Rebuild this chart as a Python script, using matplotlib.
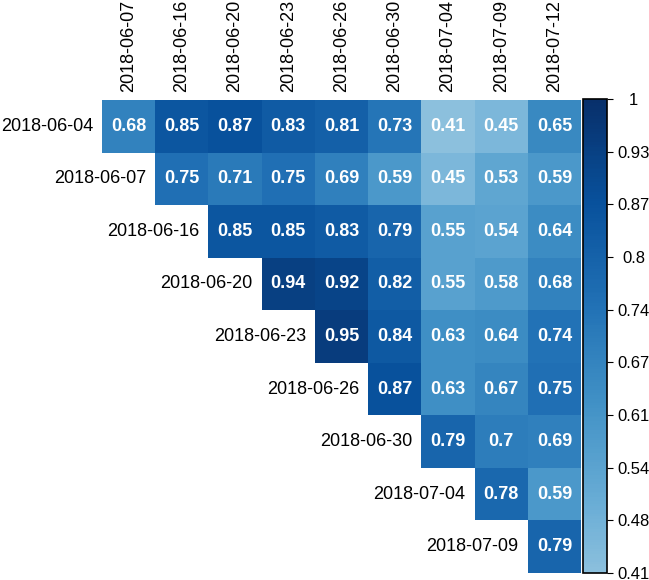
import numpy as np
import matplotlib.pyplot as plt
from matplotlib.colors import LinearSegmentedColormap

plt.rcParams['font.family'] = ['Liberation Sans', 'DejaVu Sans']

col_labels = ["2018-06-07", "2018-06-16", "2018-06-20", "2018-06-23", "2018-06-26",
              "2018-06-30", "2018-07-04", "2018-07-09", "2018-07-12"]
row_labels = ["2018-06-04", "2018-06-07", "2018-06-16", "2018-06-20", "2018-06-23",
              "2018-06-26", "2018-06-30", "2018-07-04", "2018-07-09"]

# each row starts at the diagonal column
rows = [
    [0.68, 0.85, 0.87, 0.83, 0.81, 0.73, 0.41, 0.45, 0.65],
    [0.75, 0.71, 0.75, 0.69, 0.59, 0.45, 0.53, 0.59],
    [0.85, 0.85, 0.83, 0.79, 0.55, 0.54, 0.64],
    [0.94, 0.92, 0.82, 0.55, 0.58, 0.68],
    [0.95, 0.84, 0.63, 0.64, 0.74],
    [0.87, 0.63, 0.67, 0.75],
    [0.79, 0.7, 0.69],
    [0.78, 0.59],
    [0.79],
]
cbar_ticklabels = ["0.41", "0.48", "0.54", "0.61", "0.67", "0.74", "0.8", "0.87", "0.93", "1"]

n = len(col_labels)
mat = np.full((n, n), np.nan)
for i, r in enumerate(rows):
    mat[i, i:] = r

blues = plt.get_cmap('Blues')
cmap = LinearSegmentedColormap.from_list('b', blues(np.linspace(0.42, 1.0, 256)))
vmin, vmax = 0.41, 1.0

fig = plt.figure(figsize=(6.49, 5.8), dpi=100)
ax = fig.add_axes([102 / 649, 1 - 573 / 580, 479 / 649, 473 / 580])
mesh = ax.pcolormesh(np.ma.masked_invalid(mat), cmap=cmap, vmin=vmin, vmax=vmax)
ax.set_xlim(0, n)
ax.set_ylim(n, 0)
ax.axis('off')

for i in range(n):
    for j in range(i, n):
        ax.text(j + 0.5, i + 0.5, f"{mat[i, j]:g}", ha='center', va='center',
                color='white', fontsize=13, fontweight='bold')
    ax.text(i - 0.17, i + 0.5, row_labels[i], ha='right', va='center', fontsize=13)

for j in range(n):
    ax.text(j + 0.5, -0.15, col_labels[j], ha='center', va='bottom', rotation=90, fontsize=13)

cax = fig.add_axes([583 / 649, 1 - 573 / 580, 24 / 649, 474 / 580])
cb = fig.colorbar(mesh, cax=cax)
cb.set_ticks(np.linspace(vmin, vmax, len(cbar_ticklabels)))
cb.set_ticklabels(cbar_ticklabels)
cb.outline.set_linewidth(1.2)
cax.tick_params(labelsize=12, length=4, width=0.8, pad=15)
for t in cax.get_yticklabels():
    t.set_horizontalalignment('center')

fig.savefig('out.png', dpi=100)
